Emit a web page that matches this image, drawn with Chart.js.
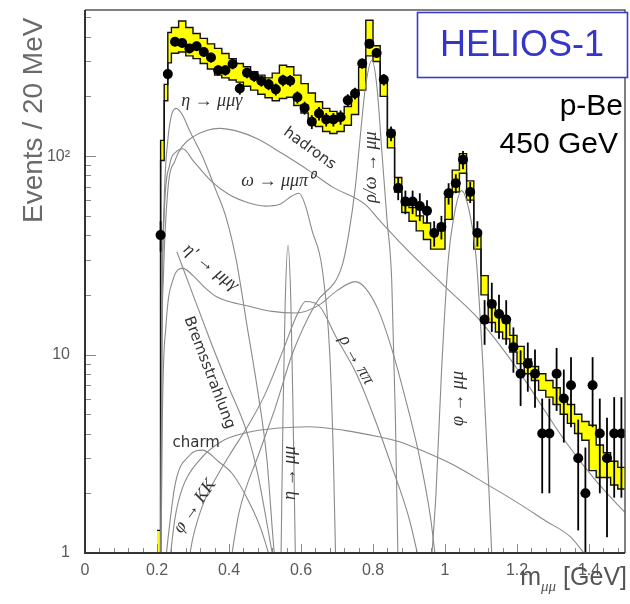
<!DOCTYPE html>
<html><head><meta charset="utf-8">
<script src="https://cdn.jsdelivr.net/npm/chart.js@4/dist/chart.umd.min.js"></script>
<style>html,body{margin:0;padding:0;background:#fff;}#wrap{position:relative;width:630px;height:604px;}</style>
</head><body><div id="wrap"><canvas id="c" width="630" height="604"></canvas></div>
<script>
// ---- data points (20 MeV bins) ----
const dataMass = [0.21,0.23,0.25,0.27,0.29,0.31,0.33,0.35,0.37,0.39,0.41,0.43,0.45,0.47,0.49,0.51,0.53,0.55,0.57,0.59,0.61,0.63,0.65,0.67,0.69,0.71,0.73,0.75,0.77,0.79,0.81,0.83,0.85,0.87,0.89,0.91,0.93,0.95,0.97,0.99,1.01,1.03,1.05,1.07,1.09,1.11,1.13,1.15,1.17,1.19,1.21,1.23,1.25,1.27,1.29,1.31,1.33,1.35,1.37,1.39,1.41,1.43,1.45,1.47,1.49];
const dataEvents = [40,259,377,372,349,358,335,314,271,271,291,219,263,253,239,230,217,241,240,198,175,149,164,153,153,157,191,207,293,368,331,243,130,69,59,59,56,53,41,44,65,73,96,66,41,15,18,16,15,10.9,8,9,8,4,4,8,6,7,3,2,7,4,3,4,4];
const dataErr = [7,16,19,19,19,19,18,18,16,16,17,15,16,16,15,15,15,16,16,14,13,12,13,12,12,13,14,14,17,19,18,16,11,9,8,8,9,7,6,6,8,8,10,8,6,3.8,5,4,3.8,2.8,2.5,2.5,2.6,2,2,2.8,2.4,2.7,1.7,1.4,2.7,2,1.8,2.1,2.1];

// ---- Monte Carlo sum with uncertainty band ----
const binEdges = [0.20,0.21,0.22,0.23,0.24,0.26,0.28,0.30,0.32,0.34,0.36,0.38,0.40,0.42,0.44,0.46,0.48,0.50,0.52,0.54,0.56,0.58,0.60,0.62,0.64,0.66,0.68,0.70,0.72,0.74,0.76,0.78,0.80,0.82,0.84,0.86,0.88,0.90,0.92,0.94,0.96,0.98,1.00,1.02,1.04,1.06,1.08,1.10,1.12,1.14,1.16,1.18,1.20,1.22,1.24,1.26,1.28,1.30,1.32,1.34,1.36,1.38,1.40,1.42,1.44,1.46,1.48,1.50];
const bandUpper = [1.3,120,230,420,445,480,445,415,392,368,349,329,310,293,282,266,256,248,262,287,282,256,232,208,188,174,168,164,178,200,280,484,360,240,135,78,59,55,50,46,41,42,62,85,103,75,42,25,18,16,14.5,12.5,11,9.5,8.7,8,7.4,6.8,6.1,5.6,5.0,4.6,4.4,3.5,3.2,2.9,2.7];
const bandLower = [1.0,95,190,295,330,335,320,310,293,275,256,248,242,236,225,215,205,197,190,195,198,180,165,152,141,133,130,133,143,162,215,320,300,200,110,66,52,47,42,38,34,34,48,66,82,60,34,20,14.5,13,12,10.3,9,8,7.4,6.6,6.1,5.6,5,4.5,4.0,3.7,2.6,2.4,2.4,2.2,2.1];

// ---- cocktail components [mass, events] ----
const curveEtaDalitz = [[0.211,0.8],[0.214,15],[0.22,60],[0.23,120],[0.24,160],[0.253,174],[0.27,162],[0.29,135],[0.327,99],[0.364,67],[0.392,49],[0.42,30],[0.45,14],[0.48,6.5],[0.505,3],[0.522,1.2],[0.53,0.8]];
const curveHadrons = [[0.211,0.8],[0.213,8],[0.218,25],[0.23,67],[0.25,95],[0.27,112],[0.30,125],[0.34,135],[0.373,138],[0.42,134],[0.48,122],[0.548,103],[0.62,85],[0.687,70],[0.779,57],[0.816,48],[0.9,33],[1.0,22],[1.092,15.2],[1.2,8.5],[1.332,3.7],[1.42,2.3],[1.5,1.6]];
const curveOmegaDalitz = [[0.211,0.8],[0.213,10],[0.22,50],[0.235,90],[0.255,106],[0.272,109],[0.30,95],[0.35,75],[0.40,64],[0.456,58],[0.50,56],[0.539,57],[0.575,63],[0.594,65],[0.61,58],[0.631,42],[0.659,27],[0.68,10],[0.69,3],[0.697,0.8]];
const curveEtaPrime = [[0.211,0.8],[0.215,5],[0.225,14],[0.245,24],[0.272,27.2],[0.30,25],[0.33,22],[0.364,19.6],[0.40,18.5],[0.456,17.5],[0.52,16.5],[0.585,16.2],[0.649,17.7],[0.70,21],[0.751,23.3],[0.78,21.5],[0.815,16.7],[0.85,11],[0.89,6],[0.93,3],[0.96,1.5],[0.978,0.8]];
const curveBrems = [[0.255,33],[0.3,20],[0.35,11.5],[0.40,6.8],[0.447,4.2],[0.48,2.5],[0.50,1.6],[0.52,1.0],[0.53,0.8]];
const curveLowHump = [[0.22,0.8],[0.25,2.2],[0.29,3.1],[0.327,3.3],[0.37,2.9],[0.41,2.5],[0.456,1.8],[0.49,1.3],[0.525,0.8]];
const curveRhoOmega = [[0.40,0.8],[0.428,1.6],[0.484,3.2],[0.53,5.5],[0.576,10.1],[0.64,18],[0.714,28],[0.733,41],[0.751,70],[0.76,103],[0.769,152],[0.779,223],[0.797,305],[0.811,223],[0.825,103],[0.839,47.6],[0.852,23.7],[0.862,5],[0.87,0.8]];
const curvePhiKK = [[0.283,0.8],[0.30,1.2],[0.33,1.8],[0.37,2.5],[0.41,3.3],[0.447,4.2],[0.50,6.3],[0.55,10.5],[0.59,16],[0.613,18.5],[0.649,17.7],[0.70,12],[0.754,8],[0.80,5],[0.85,2.8],[0.90,1.5],[0.935,0.8]];
const curveEtaMuMu = [[0.544,0.8],[0.55,5],[0.556,18],[0.564,35.6],[0.572,18],[0.578,5],[0.585,0.8]];
const curvePhiMuMu = [[0.96,0.8],[0.975,2],[0.99,8],[1.009,30],[1.023,47.6],[1.046,67],[1.07,50],[1.087,30],[1.105,9],[1.12,2.5],[1.132,0.8]];
const curveCharm = [[0.232,0.8],[0.25,1.5],[0.272,2.16],[0.318,2.94],[0.378,3.64],[0.45,4.05],[0.53,4.25],[0.622,4.33],[0.72,4.15],[0.816,3.85],[0.871,3.65],[0.95,3.2],[1.02,2.8],[1.12,2.2],[1.2,1.8],[1.28,1.45],[1.35,1.2],[1.395,0.95]];

// ---- axes ----
const xTickValues = [0,0.2,0.4,0.6,0.8,1,1.2,1.4];
const yTickValues = [1,10,100];
const yTickLabels = ['1','10','10²'];

const curves = [curveEtaDalitz,curveHadrons,curveOmegaDalitz,curveEtaPrime,curveBrems,curveLowHump,curveRhoOmega,curvePhiKK,curveEtaMuMu,curvePhiMuMu,curveCharm];

function stepPoints(vals){
  const pts=[];
  for(let i=0;i<vals.length;i++){pts.push({x:binEdges[i],y:vals[i]});pts.push({x:binEdges[i+1],y:vals[i]});}
  return pts;
}
const datasets=[];
datasets.push({label:'upper',data:stepPoints(bandUpper),borderColor:'#111',borderWidth:1.4,backgroundColor:'#ffff00',fill:'+1',pointRadius:0,tension:0,order:5});
datasets.push({label:'lower',data:stepPoints(bandLower),borderColor:'#111',borderWidth:1.4,fill:false,pointRadius:0,tension:0,order:4});
curves.forEach((c,i)=>datasets.push({label:'c'+i,data:c.map(p=>({x:p[0],y:p[1]})),borderColor:'#8a8a8a',borderWidth:1.1,fill:false,pointRadius:0,cubicInterpolationMode:'monotone',order:3}));
const DOT_INDEX=datasets.length;
datasets.push({label:'data',data:dataMass.map((m,i)=>({x:m,y:dataEvents[i]})),showLine:false,pointRadius:5,pointBackgroundColor:'#000',pointBorderColor:'#000',pointBorderWidth:0,order:1});

const noPad=s=>{s.paddingTop=0;s.paddingBottom=0;s.paddingLeft=0;s.paddingRight=0;};
const decor={
  id:'decor',
  beforeDatasetDraw(chart,args){
    if(args.index!==DOT_INDEX)return;
    const {ctx,scales:{x,y},chartArea:a}=chart;
    ctx.save();ctx.beginPath();ctx.rect(a.left,a.top,a.right-a.left,a.bottom-a.top);ctx.clip();
    ctx.strokeStyle='#000';ctx.lineWidth=1.8;
    dataMass.forEach((m,i)=>{
      const px=x.getPixelForValue(m);
      const lo=Math.max(dataEvents[i]-dataErr[i],0.5);
      ctx.beginPath();ctx.moveTo(px,y.getPixelForValue(dataEvents[i]+dataErr[i]));ctx.lineTo(px,y.getPixelForValue(lo));ctx.stroke();
    });
    ctx.restore();
  },
  afterDraw(chart){
    const {ctx,scales:{x,y},chartArea:a}=chart;
    ctx.save();
    // inner ticks
    ctx.strokeStyle='#888';ctx.lineWidth=1;
    for(let k=0;k<=37;k++){const v=k*0.04;if(v>1.5)break;const px=Math.round(x.getPixelForValue(v))+0.5;const major=Math.abs(v/0.2-Math.round(v/0.2))<1e-6;
      ctx.beginPath();ctx.moveTo(px,a.bottom);ctx.lineTo(px,a.bottom-(major?9:5));ctx.stroke();}
    for(let d=1;d<=100;d*=10){for(let m=1;m<=9;m++){const v=d*m;if(v>545)break;const py=Math.round(y.getPixelForValue(v))+0.5;
      ctx.beginPath();ctx.moveTo(a.left,py);ctx.lineTo(a.left+(m===1?11:6),py);ctx.stroke();}}
    // frame
    ctx.strokeStyle='#555';ctx.lineWidth=1.5;
    ctx.beginPath();ctx.moveTo(a.left,a.top);ctx.lineTo(a.right,a.top);ctx.lineTo(a.right,a.bottom);ctx.stroke();
    ctx.strokeStyle='#333';ctx.lineWidth=2;
    ctx.beginPath();ctx.moveTo(a.left,a.top);ctx.lineTo(a.left,a.bottom);ctx.lineTo(a.right,a.bottom);ctx.stroke();
    // curve labels
    const lab=(t,m,v,rot,font)=>{ctx.save();ctx.translate(x.getPixelForValue(m),y.getPixelForValue(v));ctx.rotate(rot*Math.PI/180);ctx.font=font;ctx.fillStyle='#333';ctx.textAlign='center';ctx.textBaseline='middle';ctx.fillText(t,0,0);ctx.restore();};
    const gk='italic 18px "Liberation Serif"', sn='15px "DejaVu Sans"';
    lab('η → μμγ',0.352,190,0,gk);
    lab('hadrons',0.624,109,36,sn);
    lab('ω → μμπ⁰',0.535,75,0,gk);
    lab('η′ → μμγ',0.35,27.5,38,gk);
    lab('Bremsstrahlung',0.345,8.1,69,sn);
    lab('charm',0.309,3.6,0,sn);
    lab('φ → KK',0.305,1.72,-55,gk);
    lab('η → μμ',0.569,2.53,-90,gk);
    lab('ρ → ππ',0.754,9.4,60,gk);
    lab('ρ/ω → μμ',0.796,88,-90,gk);
    lab('φ → μμ',1.036,6.0,-90,gk);
    // y title
    ctx.save();ctx.translate(42,223);ctx.rotate(-Math.PI/2);ctx.fillStyle='#6a6a6a';ctx.font='28px "Liberation Sans"';ctx.textAlign='left';ctx.textBaseline='alphabetic';ctx.fillText('Events / 20 MeV',0,0);ctx.restore();
    // x title
    ctx.fillStyle='#555';ctx.textBaseline='alphabetic';ctx.textAlign='left';
    ctx.font='25px "Liberation Sans"';const w1=ctx.measureText('m').width;const w3=ctx.measureText(' [GeV]').width;
    ctx.font='italic 15px "Liberation Serif"';const w2=ctx.measureText('μμ').width;
    let sx=627-(w1+w2+w3);
    ctx.font='25px "Liberation Sans"';ctx.fillText('m',sx,585);
    ctx.font='italic 15px "Liberation Serif"';ctx.fillText('μμ',sx+w1,591);
    ctx.font='25px "Liberation Sans"';ctx.fillText(' [GeV]',sx+w1+w2,585);
    // legend box
    ctx.fillStyle='#fff';ctx.fillRect(417,12,211,66);
    ctx.strokeStyle='#3a3acc';ctx.lineWidth=1.6;ctx.strokeRect(417.5,12.5,210,65);
    ctx.fillStyle='#3535c8';ctx.font='36px "Liberation Sans"';ctx.textAlign='center';ctx.textBaseline='middle';ctx.fillText('HELIOS-1',522,46);
    ctx.fillStyle='#000';ctx.font='30px "Liberation Sans"';ctx.textAlign='right';ctx.textBaseline='alphabetic';
    ctx.fillText('p-Be',623,115);ctx.fillText('450 GeV',618,153);
    ctx.restore();
  }
};

new Chart(document.getElementById('c'),{
  type:'line',
  data:{datasets},
  options:{
    responsive:false,animation:false,devicePixelRatio:1,
    layout:{padding:{left:0,right:2,top:10,bottom:0}},
    plugins:{legend:{display:false},tooltip:{enabled:false}},
    scales:{
      x:{type:'linear',min:0,max:1.5,
        afterFit:s=>{s.height=51;noPad(s);},
        afterBuildTicks:s=>{s.ticks=xTickValues.map(v=>({value:v}));},
        grid:{display:false,drawTicks:false},border:{display:false},
        ticks:{padding:8,color:'#5a5a5a',font:{family:'"Liberation Sans"',size:16},maxRotation:0,callback:v=>String(+v.toFixed(1))}},
      y:{type:'logarithmic',min:1,max:545,
        afterFit:s=>{s.width=85;noPad(s);},
        afterBuildTicks:s=>{s.ticks=yTickValues.map(v=>({value:v}));},
        grid:{display:false,drawTicks:false},border:{display:false},
        ticks:{padding:15,color:'#5a5a5a',font:{family:'"Liberation Sans"',size:16},callback:(v)=>yTickLabels[yTickValues.indexOf(v)]}}
    }
  },
  plugins:[decor]
});
</script></body></html>
